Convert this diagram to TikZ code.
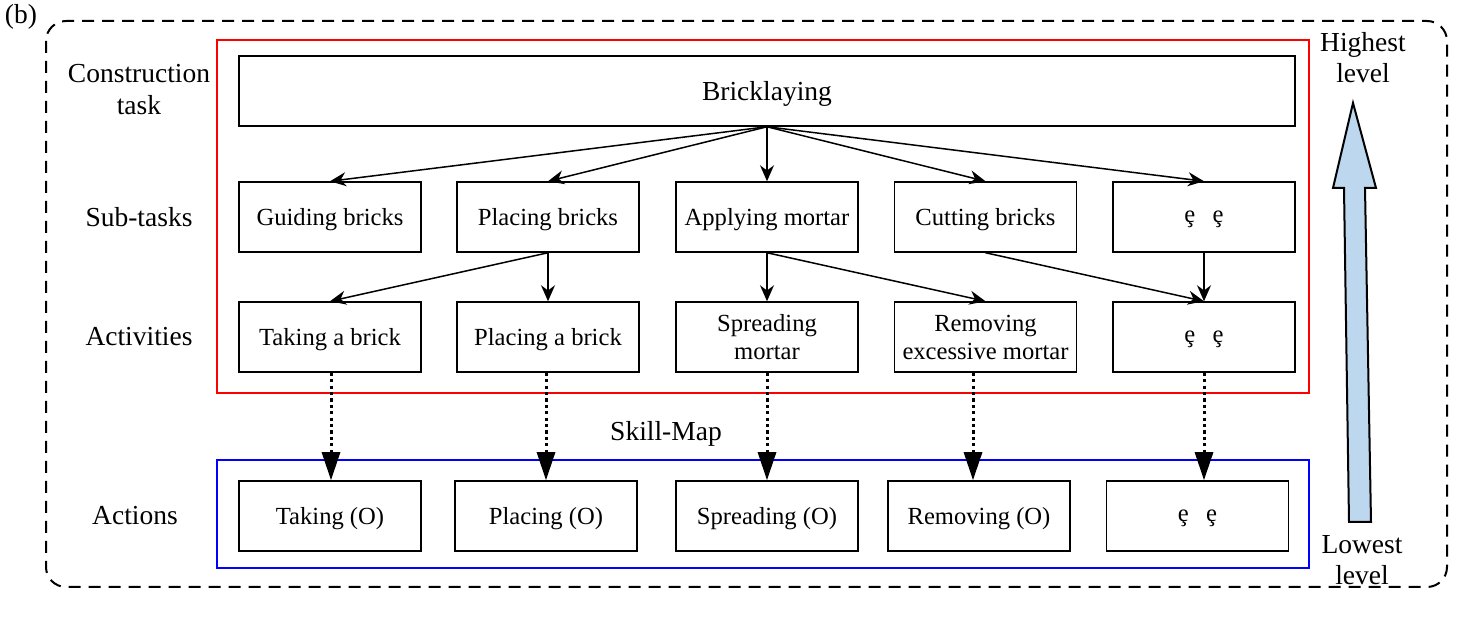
\documentclass[tikz,border=0pt]{standalone}
\usepackage{fontspec}
\setmainfont{Liberation Serif}
\usetikzlibrary{arrows.meta, positioning}

\definecolor{lvlblue}{HTML}{BDD7EE}

\begin{document}
\begin{tikzpicture}[x=0.5pt, y=-0.5pt,
      blk/.style={draw, line width=0.75pt, minimum width=91pt, minimum height=35pt,
                  inner sep=1pt, text depth=0pt, font=\fontsize{12.3}{14}\selectfont, align=center},
      lbl/.style={font=\fontsize{13.75}{16}\selectfont, align=center, inner sep=0pt},
      arr/.style={-{Stealth[length=8pt, width=7pt]}, line width=0.75pt},
      maparr/.style={-{Triangle[length=14pt, width=9pt]}, line width=1.5pt,
                     dash pattern=on 1.6pt off 1.6pt}]

    \useasboundingbox (0,0) rectangle (1468,624);

    % ---- Layout ----
    \def\ys{217}   % sub-task row y
    \def\ya{337}   % activity row y
    \def\yo{516}   % action row y

    % ---- Frames ----
    \draw[dashed, line width=1pt, dash pattern=on 6pt off 4pt, rounded corners=10pt]
          (46,21) rectangle (1447,587);
    \draw[red, line width=1pt]  (217,40)  rectangle (1309,393);
    \draw[blue, line width=1pt] (217,460) rectangle (1309,568);

    % ---- Top task ----
    \node[blk, minimum width=528pt, font=\fontsize{13.75}{16}\selectfont] (task) at (767,91) {Bricklaying};

    % ---- Sub-tasks ----
    \node[blk] (s1) at (330,\ys)    {Guiding bricks};
    \node[blk] (s2) at (548,\ys)    {Placing bricks};
    \node[blk] (s3) at (767,\ys)    {Applying mortar};
    \node[blk] (s4) at (985.5,\ys)  {Cutting bricks};
    \node[blk] (s5) at (1204,\ys)   {ȩ\hspace{0.7em}ȩ};

    % ---- Activities ----
    \node[blk] (a1) at (330,\ya)    {Taking a brick};
    \node[blk] (a2) at (548,\ya)    {Placing a brick};
    \node[blk, text depth=] (a3) at (767,\ya)    {Spreading\\mortar};
    \node[blk, text depth=] (a4) at (985.5,\ya)  {Removing\\excessive mortar};
    \node[blk] (a5) at (1204,\ya)   {ȩ\hspace{0.7em}ȩ};

    % ---- Actions ----
    \node[blk] (o1) at (330,\yo)    {Taking (O)};
    \node[blk] (o2) at (546,\yo)    {Placing (O)};
    \node[blk] (o3) at (767,\yo)    {Spreading (O)};
    \node[blk] (o4) at (979,\yo)    {Removing (O)};
    \node[blk] (o5) at (1197.5,\yo) {ȩ\hspace{0.7em}ȩ};

    % ---- Level labels ----
    \node[lbl] (lb)    at (21,17)   {(b)};
    \node[lbl] (lcon)  at (139,90)  {Construction\\task};
    \node[lbl] (lsub)  at (139,\ys) {Sub-tasks};
    \node[lbl] (lact)  at (139,\ya) {Activities};
    \node[lbl] (lacn)  at (135,\yo) {Actions};
    \node[lbl] (lmap)  at (666,434) {Skill-Map};
    \node[lbl, font=\fontsize{13.75}{15.5}\selectfont] (lhi) at (1363,58)  {Highest\\level};
    \node[lbl, font=\fontsize{13.75}{15.5}\selectfont] (llo) at (1362,560) {Lowest\\level};

    % ---- Task -> sub-tasks ----
    \foreach \i in {1,...,5}
      \draw[arr] (task.south) -- (s\i.north);

    % ---- Sub-tasks -> activities ----
    \draw[arr] (s2.south) -- (a1.north);
    \draw[arr] (s2.south) -- (a2.north);
    \draw[arr] (s3.south) -- (a3.north);
    \draw[arr] (s3.south) -- (a4.north);
    \draw[arr] (s4.south) -- (a5.north);
    \draw[arr] (s5.south) -- (a5.north);

    % ---- Skill-map: activities -> actions ----
    \foreach \x/\i in {331/1, 546/2, 767/3, 973/4, 1204/5}
      \draw[maparr] (\x,0 |- a\i.south) -- (\x,0 |- o\i.north);

    % ---- Level arrow ----
    \draw[line width=1pt, fill=lvlblue] (1349,522) -- (1344,188) -- (1333,188) -- (1353,103)
          -- (1376,188) -- (1365,188) -- (1371,522) -- cycle;

\end{tikzpicture}
\end{document}
